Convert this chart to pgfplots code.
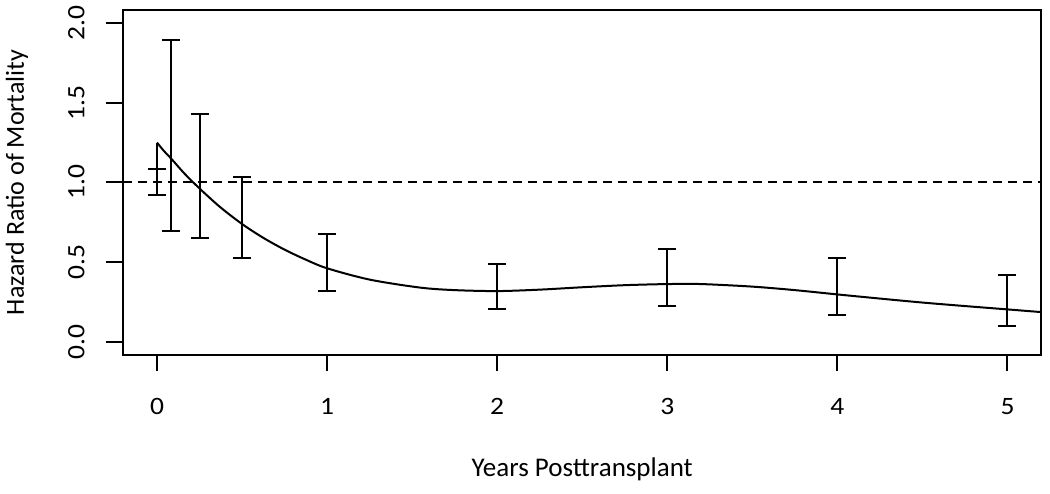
\documentclass[border=0pt]{standalone}
\usepackage{pgfplots}
\pgfplotsset{compat=1.18}
\usepackage{fontspec}
\setmainfont{Carlito}
\newfontfamily\tickfont{Carlito}[FakeStretch=1.1]
\begin{document}
\begin{tikzpicture}
\path (-61.5pt,-69.25pt) rectangle (463.5pt,177.25pt);
\begin{axis}[
  at={(0pt,0pt)}, anchor=south west,
  scale only axis, width=459.25pt, height=172.1pt,
  xmin=-0.2, xmax=5.2, ymin=-0.08, ymax=2.08,
  axis line style={line width=1pt},
  xtick={0,1,2,3,4,5}, xticklabels={0,1,2,3,4,5},
  ytick={0,0.5,1,1.5,2}, yticklabels={0.0,0.5,1.0,1.5,2.0},
  xtick pos=left, ytick pos=left,
  tick align=outside, major tick length=8.3pt,
  every tick/.style={black, line width=1pt},
  tick label style={font=\tickfont\fontsize{12.5}{14}\selectfont},
  xticklabel style={anchor=north, inner sep=0pt},
  yticklabel style={rotate=90, anchor=south, inner sep=0pt},
  xticklabel shift=13.45pt,
  yticklabel shift=10.7pt,
  xlabel={Years Posttransplant},
  ylabel={Hazard Ratio of Mortality},
  every axis x label/.style={at={(axis description cs:0.5,-0.35299)}, anchor=base, inner sep=0pt, font=\fontsize{13.5}{15}\selectfont},
  every axis y label/.style={at={(axis description cs:-0.10779,0.5)}, rotate=90, anchor=base, inner sep=0pt, font=\fontsize{13}{15}\selectfont},
  clip=true,
]
\addplot[black, line width=1pt, dash pattern=on 4.5pt off 3pt] coordinates {(-0.2,1) (5.2,1)};
\addplot[black, line width=1pt] coordinates {(0,1.0) (0,1.25)};
\addplot[black, line width=1pt, smooth, tension=0.5] coordinates {
(0,1.25) (0.04,1.198) (0.087,1.145) (0.16,1.057) (0.245,0.967) (0.369,0.847) (0.50,0.739)
(0.625,0.652) (0.75,0.578) (0.875,0.515) (1.0,0.461) (1.25,0.390) (1.546,0.340) (1.75,0.324) (2.0,0.318)
(2.25,0.327) (2.5,0.342) (2.75,0.355) (3.0,0.362) (3.2,0.362) (3.5,0.346)
(3.75,0.324) (4.0,0.297) (4.25,0.271) (4.5,0.246) (4.75,0.224) (5.0,0.203) (5.2,0.186)};
\addplot[draw=none, mark=none,
  error bars/.cd, y dir=both, y explicit,
  error bar style={black, line width=1pt},
  error mark=-, error mark options={black, line width=1pt, mark size=4.5pt, rotate=90}]
  table[x=x, y=y, y error=e] {
x y e
0 1.0025 0.0815
0.0833 1.2965 0.5995
0.25 1.04 0.391
0.5 0.7795 0.2525
1 0.496 0.178
2 0.3465 0.1415
3 0.402 0.18
4 0.3485 0.1785
5 0.259 0.16
};
\end{axis}
\end{tikzpicture}
\end{document}
